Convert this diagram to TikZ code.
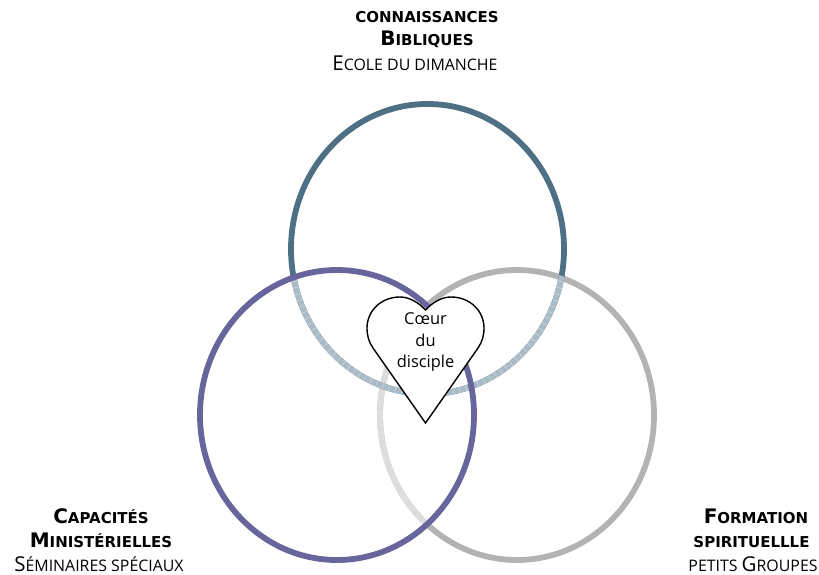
\documentclass[tikz,border=0pt]{standalone}
\usepackage{fontspec}
\setmainfont{Open Sans}
\newfontfamily\titlefont{DejaVu Sans}[BoldFont={DejaVu Sans Bold}]
\newcommand{\Bcap}[1]{{\fontsize{20}{22}\selectfont #1}}
\newcommand{\Bsm}[1]{{\fontsize{15}{22}\selectfont #1}}
\newcommand{\Rcap}[1]{{\fontsize{20.5}{22}\selectfont #1}}
\newcommand{\Rsm}[1]{{\fontsize{15.9}{22}\selectfont #1}}
\definecolor{bluering}{HTML}{4E6F84}
\definecolor{bluefade}{HTML}{A9BBC7}
\definecolor{purplering}{HTML}{67659B}
\definecolor{greyring}{HTML}{B3B3B3}
\definecolor{greyfade}{HTML}{DEDEDE}
\begin{document}
\begin{tikzpicture}[x = 1pt, y = -1pt,
                    ring/.style = {line width = 5.8pt},
                    weave/.style = {line width = 5.8pt, white!85!black, dash pattern = on 0.5pt off 6pt},
                    title/.style = {font = \titlefont\bfseries, inner sep = 0pt, anchor = base},
                    sub/.style = {inner sep = 0pt, anchor = base},
                    heart/.style = {draw, fill = white, line width = 1.4pt, line join = miter}]

\useasboundingbox (0,0) rectangle (819,575);

% grey ring, paler inside the purple one
\draw[ring, greyring] (517,415) ellipse (137 and 145);
\begin{scope}
\clip (337,415) ellipse (137 and 145);
\draw[ring, greyfade] (517,415) ellipse (137 and 145);
\draw[weave] (517,415) ellipse (137 and 145);
\end{scope}

% blue ring, paler inside the other two
\draw[ring, bluering] (427.5,249) ellipse (136.5 and 145);
\begin{scope}
\clip (337,415) ellipse (139 and 147) (517,415) ellipse (139 and 147);
\draw[ring, bluefade] (427.5,249) ellipse (136.5 and 145);
\draw[weave] (427.5,249) ellipse (136.5 and 145);
\end{scope}

% purple ring on top
\draw[ring, purplering] (337,415) ellipse (137 and 145);

% heart
\draw[heart] (425.5,310) .. controls (418,302) and (409,297) .. (400,297)
  .. controls (381,297) and (367,311) .. (367,328)
  .. controls (367,336) and (369,342) .. (373,348)
  -- (425.5,423) -- (478,348)
  .. controls (482,342) and (484,336) .. (484,328)
  .. controls (484,311) and (470,297) .. (451,297)
  .. controls (442,297) and (433,302) .. (425.5,310) -- cycle;

\node[sub] (coeur) at (425.5,324) {\fontsize{16.4}{18}\selectfont Cœur};
\node[sub] (du) at (425.5,346) {\fontsize{16.4}{18}\selectfont du};
\node[sub] (disciple) at (425.5,367) {\fontsize{16.4}{18}\selectfont disciple};

% top
\node[title] (savoir1) at (427,23) {\Bsm{CONNAISSANCES}};
\node[title] (savoir2) at (427,46) {\Bcap{B}\Bsm{IBLIQUES}};
\node[sub] (savoir3) at (415,71) {\Rcap{E}\Rsm{COLE DU DIMANCHE}};

% left
\node[title] (capacite1) at (101,523) {\Bcap{C}\Bsm{APACITÉS}};
\node[title] (capacite2) at (101,547) {\Bcap{M}\Bsm{INISTÉRIELLES}};
\node[sub] (capacite3) at (99,571.5) {\Rcap{S}\Rsm{ÉMINAIRES SPÉCIAUX}};

% right
\node[title] (formation1) at (756,523) {\Bcap{F}\Bsm{ORMATION}};
\node[title] (formation2) at (751.5,547) {\Bsm{SPIRITUELLLE}};
\node[sub] (formation3) at (753,571.5) {\Rsm{PETITS }\Rcap{G}\Rsm{ROUPES}};
\end{tikzpicture}
\end{document}
